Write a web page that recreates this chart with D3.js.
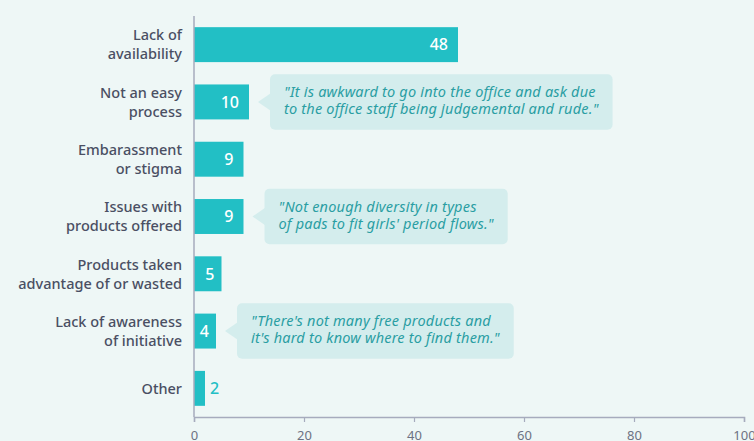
<!DOCTYPE html>
<html>
<head>
<meta charset="utf-8">
<script src="https://cdn.jsdelivr.net/npm/d3@7"></script>
<style>
  html, body { margin: 0; padding: 0; background: #eef7f6; }
  svg { display: block; }
  text { font-family: "Noto Sans", "Open Sans", sans-serif; }
</style>
</head>
<body>
<svg id="chart" width="754" height="441"></svg>
<script>
// Barriers to accessing free period products (number of responses)
const categories = [
  ["Lack of", "availability"],
  ["Not an easy", "process"],
  ["Embarassment", "or stigma"],
  ["Issues with", "products offered"],
  ["Products taken", "advantage of or wasted"],
  ["Lack of awareness", "of initiative"],
  ["Other"]
];
const values = [48, 10, 9, 9, 5, 4, 2];
const xTicks = [0, 20, 40, 60, 80, 100];

// Quotes shown next to selected bars (index into categories)
const quoteRows = [1, 3, 5];
const quoteLines = [
  ["\"It is awkward to go into the office and ask due", "to the office staff being judgemental and rude.\""],
  ["\"Not enough diversity in types", "of pads to fit girls' period flows.\""],
  ["\"There's not many free products and", "it's hard to know where to find them.\""]
];

const margin = { top: 16, left: 194 };
const svg = d3.select("#chart");

const x = d3.scaleLinear().domain([0, 100]).range([margin.left, 744]);
const y = d3.scaleBand()
  .domain(d3.range(values.length))
  .range([margin.top, 417])
  .paddingInner(0.39)
  .paddingOuter(0.195);

const teal = "#22bfc5";
const axisColor = "#a6abbd";

// bars
svg.append("g").selectAll("rect")
  .data(values)
  .join("rect")
  .attr("x", x(0))
  .attr("y", (d, i) => y(i))
  .attr("width", d => x(d) - x(0))
  .attr("height", y.bandwidth())
  .attr("fill", teal);

// value labels: inside the bar when it fits, otherwise just past its end
svg.append("g").selectAll("text")
  .data(values)
  .join("text")
  .attr("x", d => {
    const w = x(d) - x(0);
    if (w < 16) return x(d) + 5;
    return x(d) - (w > 40 ? 10 : 7);
  })
  .attr("y", (d, i) => y(i) + y.bandwidth() / 2)
  .attr("dy", "0.36em")
  .attr("text-anchor", d => (x(d) - x(0) < 16 ? "start" : "end"))
  .attr("fill", d => (x(d) - x(0) < 16 ? teal : "#ffffff"))
  .attr("font-size", 16)
  .attr("font-weight", 500)
  .text(d => d);

// category labels
const catG = svg.append("g");
categories.forEach((lines, i) => {
  const cy = y(i) + y.bandwidth() / 2;
  const lh = 19;
  const t = catG.append("text")
    .attr("text-anchor", "end")
    .attr("fill", "#4a4f63")
    .attr("font-size", 14.5)
    .attr("font-weight", 500);
  lines.forEach((s, k) => {
    t.append("tspan")
      .attr("x", 182)
      .attr("y", cy + (k - (lines.length - 1) / 2) * lh)
      .attr("dy", "0.36em")
      .text(s);
  });
});

// y axis line
svg.append("line")
  .attr("x1", x(0)).attr("x2", x(0))
  .attr("y1", margin.top).attr("y2", 417)
  .attr("stroke", axisColor).attr("stroke-width", 1.5);

// x axis
const xAxis = svg.append("g")
  .attr("transform", "translate(0,417)")
  .call(d3.axisBottom(x).tickValues(xTicks).tickSize(5).tickPadding(9));
xAxis.select(".domain").attr("stroke", axisColor).attr("stroke-width", 1.5);
xAxis.selectAll(".tick line").attr("stroke", axisColor).attr("stroke-width", 1.2);
xAxis.selectAll(".tick text")
  .attr("fill", "#6d7283")
  .attr("font-size", 13)
  .style("font-family", "\"Noto Sans\", sans-serif");

// quote callouts
const qG = svg.append("g");
quoteRows.forEach((row, qi) => {
  const cy = y(row) + y.bandwidth() / 2;
  const tipX = x(values[row]) + 9;
  const boxX = tipX + 12;
  const boxH = 55.5;
  const boxY = cy - boxH / 2;
  const g = qG.append("g");
  const box = g.append("rect")
    .attr("x", boxX).attr("y", boxY)
    .attr("height", boxH).attr("rx", 5)
    .attr("fill", "#d4eded");
  g.append("path")
    .attr("d", `M${boxX + 1},${cy - 9} L${tipX},${cy} L${boxX + 1},${cy + 9} Z`)
    .attr("fill", "#d4eded");
  const t = g.append("text")
    .attr("fill", "#2a9ea3")
    .attr("font-size", 14.5)
    .attr("letter-spacing", 0.2)
    .attr("font-style", "italic");
  quoteLines[qi].forEach((s, k) => {
    t.append("tspan")
      .attr("x", boxX + 14)
      .attr("y", boxY + 23 + k * 17)
      .text(s);
  });
  const tw = d3.max(t.selectAll("tspan").nodes(), n => n.getComputedTextLength());
  box.attr("width", tw + 28);
});
</script>
</body>
</html>
